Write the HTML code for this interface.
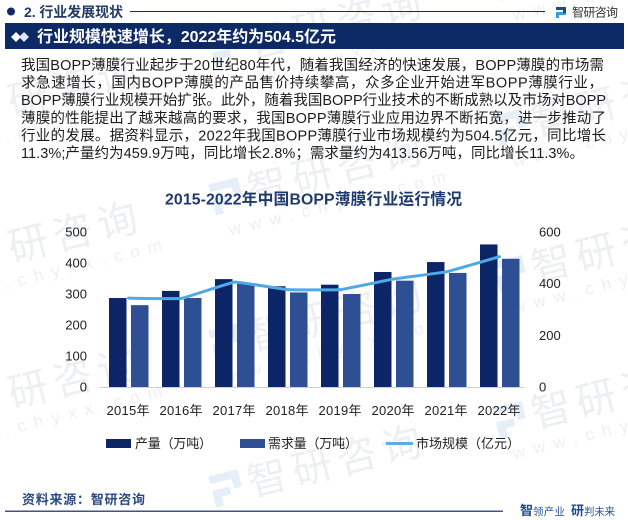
<!DOCTYPE html>
<html lang="zh">
<head>
<meta charset="utf-8">
<title>2015-2022年中国BOPP薄膜行业运行情况</title>
<style>
html,body{margin:0;padding:0;background:#fff;width:628px;height:520px;overflow:hidden;}
#frame{position:relative;width:628px;height:520px;overflow:hidden;contain:paint;}
svg{position:absolute;left:0;top:0;display:block;overflow:hidden;}
text{font-family:"Liberation Sans","Noto Sans CJK SC",sans-serif;}
</style>
</head>
<body>
<div id="frame">
<svg id="page" width="628" height="520" viewBox="0 0 628 520" xmlns="http://www.w3.org/2000/svg">
  <g id="watermarks"></g>

  <g>
    <circle cx="11" cy="11.5" r="4" fill="#14296a"/>
    <text x="24" y="17" font-size="14" font-weight="700" fill="#233a66" textLength="99">2. 行业发展现状</text>
    <line x1="130" y1="11.5" x2="545" y2="11.5" stroke="#14296a" stroke-width="1"/>
    <g>
      <rect x="556" y="7" width="10" height="3" fill="#1e4a8c"/>
      <rect x="556" y="12" width="10" height="3" fill="#2f9fe0"/>
      <rect x="556" y="12" width="3" height="6" fill="#2f9fe0"/>
      <rect x="563" y="7" width="3" height="6" fill="#1e4a8c"/>
    </g>
    <text x="572" y="16.5" font-size="12" fill="#333" textLength="46">智研咨询</text>
  </g>

  <g>
    <rect x="5" y="23" width="619" height="26" fill="#0e2a66"/>
    <path d="M11 37l5-5 5 5-5 5z" fill="#fff"/>
    <path d="M19 37l5-5 5 5-5 5z" fill="#dfe6f2"/>
    <text x="37" y="42" font-size="16" font-weight="700" fill="#fff" textLength="299">行业规模快速增长，2022年约为504.5亿元</text>
  </g>

  <g font-size="14.5" fill="#1c1c1c">
    <text x="21" y="70" textLength="583">我国BOPP薄膜行业起步于20世纪80年代，随着我国经济的快速发展，BOPP薄膜的市场需</text>
    <text x="21" y="87.6" textLength="582">求急速增长，国内BOPP薄膜的产品售价持续攀高，众多企业开始进军BOPP薄膜行业，</text>
    <text x="21" y="105.2" textLength="585">BOPP薄膜行业规模开始扩张。此外，随着我国BOPP行业技术的不断成熟以及市场对BOPP</text>
    <text x="21" y="122.8" textLength="585">薄膜的性能提出了越来越高的要求，我国BOPP薄膜行业应用边界不断拓宽，进一步推动了</text>
    <text x="21" y="140.4" textLength="585">行业的发展。据资料显示，2022年我国BOPP薄膜行业市场规模约为504.5亿元，同比增长</text>
    <text x="21" y="158" textLength="563">11.3%;产量约为459.9万吨，同比增长2.8%；需求量约为413.56万吨，同比增长11.3%。</text>
  </g>

  <text x="165" y="204.5" font-size="15.8" font-weight="700" fill="#1f3a6e" textLength="297">2015-2022年中国BOPP薄膜行业运行情况</text>

  <g id="chart"></g>

  <g>
    <g>
      <rect x="106" y="439" width="25" height="9" fill="#0c2566"/>
      <text x="135" y="448" font-size="13" fill="#222" textLength="77">产量（万吨）</text>
    </g>
    <g>
      <rect x="240" y="439" width="25" height="9" fill="#2f4f94"/>
      <text x="268" y="448" font-size="13" fill="#222" textLength="90">需求量（万吨）</text>
    </g>
    <g>
      <line x1="386" y1="443.5" x2="413" y2="443.5" stroke="#5aaee2" stroke-width="3"/>
      <text x="416" y="448" font-size="13" fill="#222" textLength="104">市场规模（亿元）</text>
    </g>
  </g>

  <g>
    <text x="22" y="504" font-size="13" font-weight="700" fill="#2b4a80" textLength="123">资料来源：智研咨询</text>
    <rect x="5" y="510.6" width="498" height="1.2" fill="#14296a"/>
    <text x="520" y="515" font-size="13" font-weight="700" fill="#1f4a85">智</text>
    <text x="533" y="515" font-size="10.5" fill="#2b5590" textLength="32">领产业</text>
    <text x="571" y="515" font-size="13" font-weight="700" fill="#1f4a85">研</text>
    <text x="584" y="515" font-size="10.5" fill="#2b5590" textLength="31">判未来</text>
  </g>
</svg>
</div>
<script>
const categories = ["2015年","2016年","2017年","2018年","2019年","2020年","2021年","2022年"];
const production = [287,310,348,325,330,371,403,459.9];
const demand = [264,287,335,305,300,343,368,413.56];
const market = [344,343,406,377,377,418,446,504.5];
const leftTicks = [0,100,200,300,400,500];
const rightTicks = [0,200,400,600];
const leftMax = 500;
const rightMax = 600;

const NS = "http://www.w3.org/2000/svg";
const chart = document.getElementById("chart");
const plotBottom = 387;
const plotTop = 232;
const firstCenter = 128.5;
const bandStep = 53;

function xCenter(i){ return firstCenter + i * bandStep; }
function yLeft(v){ return plotBottom - (v / leftMax) * (plotBottom - plotTop); }
function yRight(v){ return plotBottom - (v / rightMax) * (plotBottom - plotTop); }
function make(tag, attrs, parent){
  const el = document.createElementNS(NS, tag);
  for (const k in attrs) el.setAttribute(k, attrs[k]);
  (parent || chart).appendChild(el);
  return el;
}

/* baseline axis */
const axis = make("line",{x1:100,y1:plotBottom+0.5,x2:524,y2:plotBottom+0.5,stroke:"#cfcfcf","stroke-width":1});



/* bars */
production.forEach(function(v,i){
  const r = make("rect",{x:xCenter(i)-19.5,y:yLeft(v),width:17.5,height:plotBottom-yLeft(v),fill:"#0c2566"});
  
  
});
demand.forEach(function(v,i){
  const r = make("rect",{x:xCenter(i)+2.5,y:yLeft(v),width:17.5,height:plotBottom-yLeft(v),fill:"#2f4f94"});
  
  
});

/* lightly smoothed market line */
const pts = market.map(function(v,i){ return [xCenter(i), yRight(v)]; });
let d = "M" + pts[0][0] + " " + pts[0][1];
for (let i = 0; i < pts.length - 1; i++){
  const p0 = pts[Math.max(i-1,0)], p1 = pts[i], p2 = pts[i+1], p3 = pts[Math.min(i+2,pts.length-1)];
  const t = 0.04;
  d += " C" + (p1[0]+(p2[0]-p0[0])*t) + " " + (p1[1]+(p2[1]-p0[1])*t) + " " +
       (p2[0]-(p3[0]-p1[0])*t) + " " + (p2[1]-(p3[1]-p1[1])*t) + " " + p2[0] + " " + p2[1];
}
const line = make("path",{d:d,fill:"none",stroke:"#4fa9e6","stroke-width":3,"stroke-linecap":"round","stroke-linejoin":"round"});



/* tick labels */
leftTicks.forEach(function(v){
  const t = make("text",{x:87,y:yLeft(v)+4.5,"font-size":13,"text-anchor":"end",fill:"#222"});
  t.textContent = v;
  
  
});
rightTicks.forEach(function(v){
  const t = make("text",{x:539,y:yRight(v)+4.5,"font-size":13,fill:"#222"});
  t.textContent = v;
  
  
});
categories.forEach(function(c,i){
  const t = make("text",{x:xCenter(i)-22,y:415,"font-size":13,fill:"#222",textLength:43});
  t.textContent = c;
  
  
});

/* background watermarks: [column, row] on the repeating lattice */
const wmLayer = document.getElementById("watermarks");
const wmCells = [[-1,-2],[-1,-1],[-1,0],[0,-2],[0,-1],[0,0],[0,1],[1,-2],[1,-1],[1,0],[1,1]];
wmCells.forEach(function(cell){
  const col = cell[0], row = cell[1];
  const ox = 212 + col * 284;
  const oy = 345 - col * 68.5 + row * 146;
  const g = make("g",{transform:"translate("+ox+" "+oy+") rotate(-14)"},wmLayer);
  
  
  const icon = make("path",{d:"M0 -15H30V3H22V-7H0ZM0 0H18V8H8V17H0Z",fill:"#e6eef7"},g);
  
  
  const big = make("text",{x:37,y:15,"font-size":40,"letter-spacing":6,fill:"#eeeff2"},g);
  big.textContent = "智研咨询";
  
  
  if (oy + 60 < 520) {
    const small = make("text",{x:9,y:40,"font-size":17,"letter-spacing":8.5,fill:"#eeeff2"},g);
    small.textContent = "www.chyxx.com";
    
    
  }
});
</script>
</body>
</html>
